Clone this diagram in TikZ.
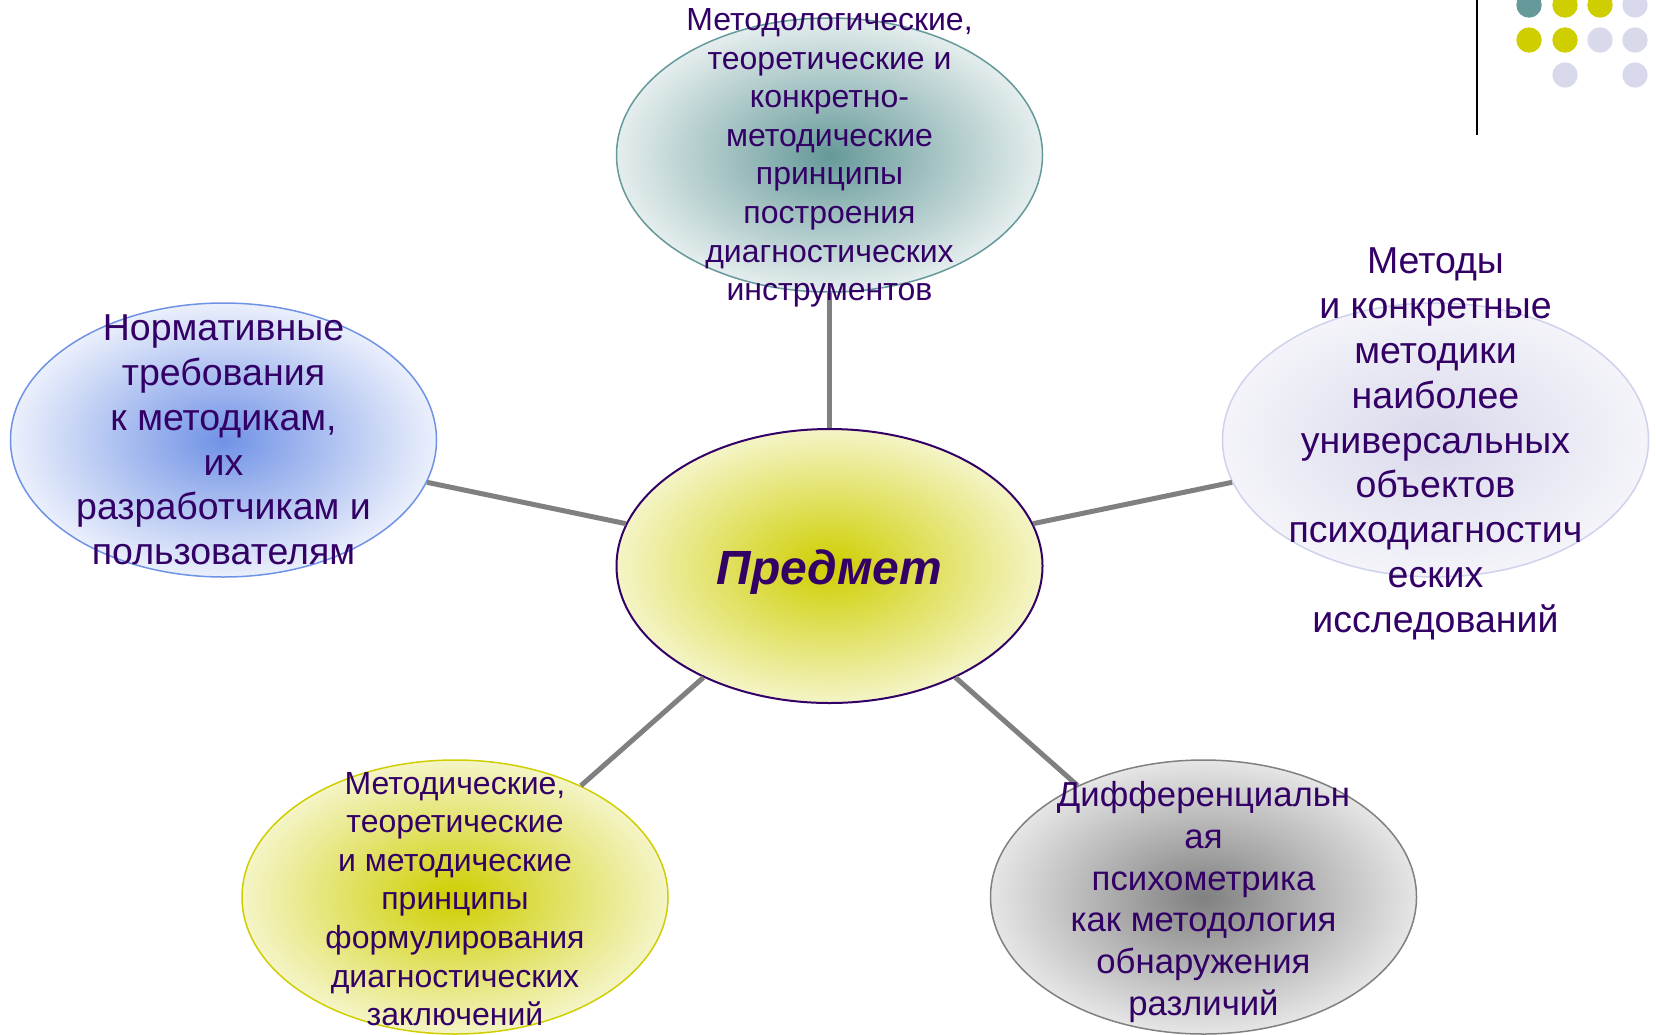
\documentclass[tikz,border=0pt]{standalone}
\usepackage{fontspec}
\setmainfont{Liberation Sans}
\usetikzlibrary{shapes.geometric,positioning}
\definecolor{ink}{RGB}{51,0,102}
\definecolor{yolk}{RGB}{206,206,0}
\definecolor{sea}{RGB}{102,153,153}
\definecolor{sky}{RGB}{112,146,230}
\definecolor{lilac}{RGB}{217,217,236}
\definecolor{ash}{RGB}{128,128,128}
\begin{document}
\begin{tikzpicture}[x=1pt, y=-1pt, on grid,
    blob/.style={ellipse, minimum width=426pt, minimum height=274pt, inner sep=0pt, line width=1.5pt},
    txt/.style={text=ink, align=center, inner sep=0pt},
    small/.style={font=\fontsize{32}{38.6}\selectfont},
    large/.style={font=\fontsize{37.5}{44.8}\selectfont},
    link/.style={draw=ash, line width=5pt}]
  \useasboundingbox (0,0) rectangle (1656,1034);
  % ellipses
  \node [blob, draw=ink, line width=2pt, inner color=yolk, outer color=yolk!22!white] (centre) at (829.5,566) {};
  \node [blob, draw=sea, inner color=sea, outer color=sea!17!white] (top) [above=411pt of centre] {};
  \node [blob, draw=sky, inner color=sky, outer color=sky!14!white] (left) [above left=126pt and 606pt of centre] {};
  \node [blob, draw=lilac!90!sky, inner color=lilac, outer color=lilac!30!white] (right) [above right=126pt and 606pt of centre] {};
  \node [blob, draw=yolk, inner color=yolk, outer color=yolk!22!white] (botleft) [below left=331pt and 374.5pt of centre] {};
  \node [blob, draw=ash, inner color=ash, outer color=ash!20!white] (botright) [below right=331pt and 374pt of centre] {};
  % connectors
  \draw [link] (centre) -- (top);
  \draw [link] (centre) -- (left);
  \draw [link] (centre) -- (right);
  \draw [link] (centre) -- (botleft);
  \draw [link] (centre) -- (botright);
  % texts
  \node [txt, font=\fontsize{48}{58}\selectfont\bfseries\itshape] (centre-t) at ([yshift=-6pt]centre.center) {Предмет};
  \node [txt, small] (top-t) at ([yshift=-3pt]top.center) {Методологические,\\теоретические и\\конкретно-\\методические\\принципы\\построения\\диагностических\\инструментов};
  \node [txt, large] (left-t) at (left) {Нормативные\\требования\\к методикам,\\их\\разработчикам и\\пользователям};
  \node [txt, large] (right-t) at ([yshift=-4pt]right.center) {Методы\\и конкретные\\методики\\наиболее\\универсальных\\объектов\\психодиагностич\\еских\\исследований};
  \node [txt, small] (botleft-t) at ([yshift=-2pt]botleft.center) {Методические,\\теоретические\\и методические\\принципы\\формулирования\\диагностических\\заключений};
  \node [txt, font=\fontsize{34.7}{41.8}\selectfont] (botright-t) at ([yshift=-5pt]botright.center) {Дифференциальн\\ая\\психометрика\\как методология\\обнаружения\\различий};
  % corner decoration
  \draw [line width=2.7pt] (1477,0) -- (1477,135);
  \foreach \x/\y/\c in {1529/5/sea, 1565/5/yolk, 1600/5/yolk, 1635/5/lilac,
                        1529/40/yolk, 1565/40/yolk, 1600/40/lilac, 1635/40/lilac,
                        1565/75/lilac, 1635/75/lilac}
    \fill [\c] (\x,\y) circle (12.7pt);
\end{tikzpicture}
\end{document}
